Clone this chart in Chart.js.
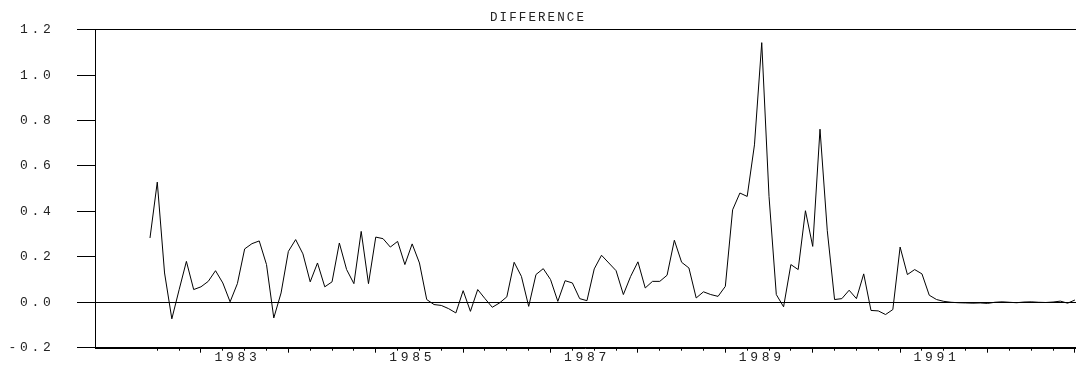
<!DOCTYPE html>
<html><head><meta charset="utf-8">
<script src="https://cdn.jsdelivr.net/npm/chart.js@4"></script>
<style>html,body{margin:0;padding:0;background:#fff}canvas{display:block}</style>
</head><body>
<canvas id="c" width="1078" height="371"></canvas>
<script>
// ---- data ----
const chartTitle = 'DIFFERENCE';
const startYear = 1982, startMonth = 6; // first observation: 1982:06, monthly
const values = [
  0.283, 0.529, 0.129, -0.073, 0.055, 0.180, 0.056, 0.068, 0.092, 0.139,
  0.085, 0.002, 0.082, 0.235, 0.258, 0.270, 0.166, -0.069, 0.041, 0.224,
  0.276, 0.213, 0.090, 0.173, 0.068, 0.090, 0.261, 0.144, 0.082, 0.312,
  0.082, 0.287, 0.280, 0.243, 0.268, 0.166, 0.257, 0.173, 0.012, -0.010,
  -0.014, -0.028, -0.047, 0.051, -0.040, 0.056, 0.016, -0.022, -0.003, 0.024,
  0.176, 0.114, -0.018, 0.122, 0.148, 0.100, 0.004, 0.095, 0.085, 0.016,
  0.007, 0.147, 0.207, 0.173, 0.139, 0.034, 0.114, 0.178, 0.063, 0.092,
  0.092, 0.119, 0.273, 0.176, 0.151, 0.019, 0.046, 0.034, 0.026, 0.070,
  0.407, 0.481, 0.466, 0.693, 1.143, 0.466, 0.034, -0.020, 0.166, 0.144,
  0.403, 0.246, 0.762, 0.315, 0.012, 0.016, 0.053, 0.016, 0.125, -0.036,
  -0.038, -0.054, -0.032, 0.243, 0.122, 0.144, 0.125, 0.031, 0.012, 0.004,
  0.000, -0.002, -0.003, -0.004, -0.003, -0.005, 0.000, 0.002, 0.000, -0.002,
  0.001, 0.002, 0.000, -0.001, 0.001, 0.005, -0.004, 0.010
];
const yearLabels = ['1983', '1985', '1987', '1989', '1991'];
const yTickValues = [-0.2, 0.0, 0.2, 0.4, 0.6, 0.8, 1.0, 1.2];
const yRefLines = [0.0, 1.2];

// month index helpers (index 0 = startYear:startMonth)
const monthIndex = (y, m) => (y - startYear) * 12 + (m - startMonth);
const lastIndex = values.length - 1;
const labelPos = yearLabels.map(y => monthIndex(+y, 6));
const janPos = [], qPos = [];
for (let i = 0; i <= lastIndex; i++) {
  const m = ((startMonth - 1 + i) % 12) + 1;
  if (m % 3 === 1) qPos.push(i);
  if (m === 1) janPos.push(i);
}

// letter spacing by font size (monospaced, widely spaced look)
(function () {
  const proto = CanvasRenderingContext2D.prototype;
  const d = Object.getOwnPropertyDescriptor(proto, 'font');
  Object.defineProperty(proto, 'font', {
    configurable: true,
    get() { return d.get.call(this); },
    set(v) {
      d.set.call(this, v);
      if ('letterSpacing' in this) {
        if (/\b12\.5px/.test(v)) this.letterSpacing = '2.1px';
        else if (/\b13px/.test(v)) this.letterSpacing = '3.7px';
        else this.letterSpacing = '0px';
      }
    }
  });
})();

const FONT = 'Liberation Mono';
const xMin = -7.55, xMax = 127.15;
const near = (a, b) => Math.abs(a - b) < 1e-6;
const tickOnlyAxis = (positions, len, weight) => ({
  type: 'linear', axis: 'x', position: 'bottom', weight, min: xMin, max: xMax,
  afterBuildTicks: s => { s.ticks = positions.map(v => ({ value: v })); },
  ticks: { display: false },
  grid: { drawOnChartArea: false, drawTicks: true, tickLength: len, tickColor: '#000', tickWidth: 1 },
  border: { display: false },
  afterFit: s => { s.height = 0; }
});

new Chart(document.getElementById('c'), {
  type: 'line',
  data: {
    datasets: [{
      data: values.map((v, i) => ({ x: i, y: v })),
      borderColor: '#000',
      borderWidth: 1,
      pointRadius: 0,
      tension: 0,
      fill: false
    }]
  },
  options: {
    responsive: false,
    animation: false,
    events: [],
    layout: { padding: { left: 0, right: 2, top: 0, bottom: 0 } },
    plugins: {
      legend: { display: false },
      tooltip: { enabled: false },
      title: {
        display: true, text: chartTitle, color: '#222',
        font: { family: FONT, size: 12.5, weight: 'normal', lineHeight: 1.2 },
        padding: { top: 10.5, bottom: 4.2 }
      }
    },
    scales: {
      xj: tickOnlyAxis(janPos, 5, 0),
      xq: tickOnlyAxis(qPos, 3, 1),
      x: {
        type: 'linear', axis: 'x', position: 'bottom', weight: 5, min: xMin, max: xMax,
        afterBuildTicks: s => { s.ticks = labelPos.map(v => ({ value: v })); },
        ticks: {
          autoSkip: false, maxRotation: 0, padding: 1.8, color: '#222',
          font: { family: FONT, size: 13, lineHeight: 1.2 },
          callback: (v) => { const k = labelPos.indexOf(v); return k >= 0 ? yearLabels[k] : ''; }
        },
        grid: { drawOnChartArea: false, drawTicks: false },
        border: { display: false },
        afterFit: s => { s.height = 23.3; }
      },
      y: {
        type: 'linear', position: 'left', min: -0.2, max: 1.2,
        afterBuildTicks: s => { s.ticks = yTickValues.map(v => ({ value: v })); },
        ticks: {
          padding: 22.5, color: '#222', font: { family: FONT, size: 13, lineHeight: 0.01 },
          callback: v => v.toFixed(1)
        },
        grid: {
          drawOnChartArea: true, drawTicks: true, tickLength: 18,
          color: c => (yRefLines.some(r => near(r, c.tick.value)) || c.index === 0) ? '#000' : 'rgba(0,0,0,0)',
          tickColor: '#000', lineWidth: 1
        },
        border: { display: true, color: '#000', width: 1 },
        afterFit: s => { s.width = 95; }
      }
    }
  },
  plugins: [{
    id: 'bottomRule',
    // x-axis baseline across the plot at the y-axis minimum, drawn through the scale's own pixels
    afterDraw(chart) {
      const { ctx, chartArea, scales } = chart;
      const yb = Math.round(scales.y.getPixelForValue(scales.y.min)) + 0.5;
      ctx.save();
      ctx.strokeStyle = '#000'; ctx.lineWidth = 1;
      ctx.beginPath(); ctx.moveTo(chartArea.left, yb); ctx.lineTo(chartArea.right, yb); ctx.stroke();
      ctx.restore();
    }
  }]
});
</script>
</body></html>
